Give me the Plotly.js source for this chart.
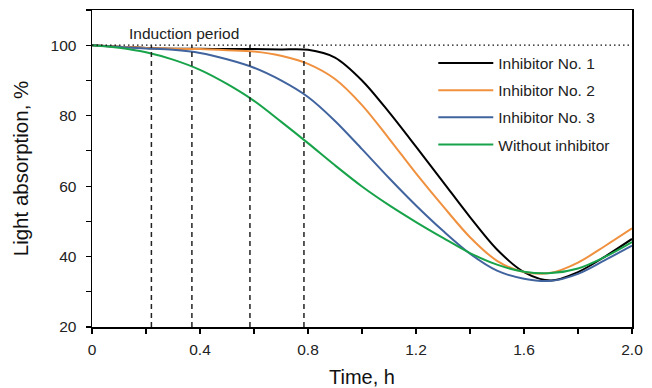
<!DOCTYPE html>
<html>
<head>
<meta charset="utf-8">
<script src="https://cdn.plot.ly/plotly-3.0.1.min.js"></script>
<style>html,body{margin:0;padding:0;background:#fff}#chart{width:652px;height:388px}</style>
</head>
<body>
<div id="chart"></div>
<script>
// Time axis (h)
const timeH = [0, 0.1, 0.2, 0.3, 0.4, 0.5, 0.6, 0.7, 0.8, 0.9, 1.0, 1.1, 1.2, 1.3, 1.4, 1.5, 1.6, 1.7, 1.8, 1.9, 2.0];
// Light absorption, %
const inhibitor1 = [100, 99.6, 99.2, 99.0, 99.0, 98.9, 98.9, 98.8, 98.7, 96.5, 90.0, 81.0, 71.2, 61.2, 51.2, 42.0, 35.6, 33.2, 35.6, 40.0, 45.0];
const inhibitor2 = [100, 99.6, 99.2, 99.0, 98.9, 98.6, 98.2, 97.0, 94.7, 90.4, 83.0, 73.5, 63.6, 54.3, 45.5, 38.8, 35.6, 35.4, 38.3, 43.0, 48.0];
const inhibitor3 = [100, 99.5, 99.1, 98.7, 97.8, 96.0, 93.6, 90.0, 85.3, 78.5, 70.5, 62.3, 54.5, 47.3, 40.8, 36.0, 33.7, 33.1, 35.1, 39.0, 43.1];
const noInhibitor = [100, 99.3, 98.0, 95.9, 93.0, 89.0, 84.2, 78.3, 72.2, 65.9, 59.9, 54.6, 49.8, 45.3, 41.0, 37.7, 35.7, 35.3, 36.6, 39.9, 44.1];
const seriesNames = ['Inhibitor No. 1', 'Inhibitor No. 2', 'Inhibitor No. 3', 'Without inhibitor'];
// End of induction periods (h)
const inductionEnds = [0.22, 0.37, 0.585, 0.785];
const baselineLevel = 100;
const xTickVals = [0, 0.4, 0.8, 1.2, 1.6, 2.0];
const xTickText = ['0', '0.4', '0.8', '1.2', '1.6', '2.0'];
const yTickVals = [20, 40, 60, 80, 100];

const colors = ['#000000', '#F0913F', '#41649F', '#18A34A'];
const seriesData = [inhibitor1, inhibitor2, inhibitor3, noInhibitor];
const FONT = 'Liberation Sans, Arial, sans-serif';

const traces = seriesData.map((ys, i) => ({
  x: timeH, y: ys, name: seriesNames[i], type: 'scatter', mode: 'lines',
  line: {color: colors[i], width: 2, shape: 'spline', smoothing: 0.9},
  legendgroup: 'g' + i
}));

const shapes = inductionEnds.map(t => ({
  type: 'line', xref: 'x', yref: 'y', x0: t, x1: t, y0: 20, y1: baselineLevel,
  line: {color: '#222', width: 1.5, dash: '5px,4px'}
}));
shapes.push({
  type: 'line', xref: 'x', yref: 'y', x0: 0, x1: 2, y0: baselineLevel, y1: baselineLevel,
  line: {color: '#111', width: 1.2, dash: '1.5px,3px'}
});

const layout = {
  width: 652, height: 388,
  margin: {l: 91.5, r: 20, t: 10, b: 61},
  paper_bgcolor: '#fff', plot_bgcolor: '#fff',
  font: {family: FONT, color: '#222', size: 15.5},
  showlegend: true,
  legend: {x: 0.632, y: 0.885, xanchor: 'left', yanchor: 'top', bgcolor: 'rgba(0,0,0,0)',
    font: {family: FONT, size: 15.5, color: '#222'}, itemwidth: 55, tracegroupgap: 4, traceorder: 'grouped'},
  xaxis: {
    range: [0, 2], showgrid: false, zeroline: false, showline: true, linecolor: '#000', linewidth: 1.5,
    mirror: true, ticks: 'outside', ticklen: 5, tickwidth: 1.2, tickcolor: '#000',
    tickmode: 'array', tickvals: xTickVals, ticktext: xTickText, ticklabelstandoff: 3,
    minor: {dtick: 0.2, tick0: 0, ticks: 'outside', ticklen: 5, tickwidth: 1.2, tickcolor: '#000', showgrid: false},
    tickfont: {family: FONT, size: 15.5, color: '#222'},
    title: {text: 'Time, h', font: {family: FONT, size: 20, color: '#111'}, standoff: 14}
  },
  yaxis: {
    range: [20, 110], showgrid: false, zeroline: false, showline: true, linecolor: '#000', linewidth: 1.5,
    mirror: true, ticks: 'outside', ticklen: 5, tickwidth: 1.2, tickcolor: '#000',
    tickmode: 'array', tickvals: yTickVals, ticklabelstandoff: 6,
    minor: {dtick: 10, tick0: 0, ticks: 'outside', ticklen: 5, tickwidth: 1.2, tickcolor: '#000', showgrid: false},
    tickfont: {family: FONT, size: 15.5, color: '#222'},
    title: {text: 'Light absorption, %', font: {family: FONT, size: 20.5, color: '#111'}, standoff: 16}
  },
  shapes: shapes,
  annotations: [{
    xref: 'x', yref: 'y', x: 0.34, y: 103.3, text: 'Induction period', showarrow: false,
    font: {family: FONT, size: 15.5, color: '#222'}
  }]
};

Plotly.newPlot('chart', traces, layout, {displayModeBar: false, staticPlot: true});
</script>
</body>
</html>
